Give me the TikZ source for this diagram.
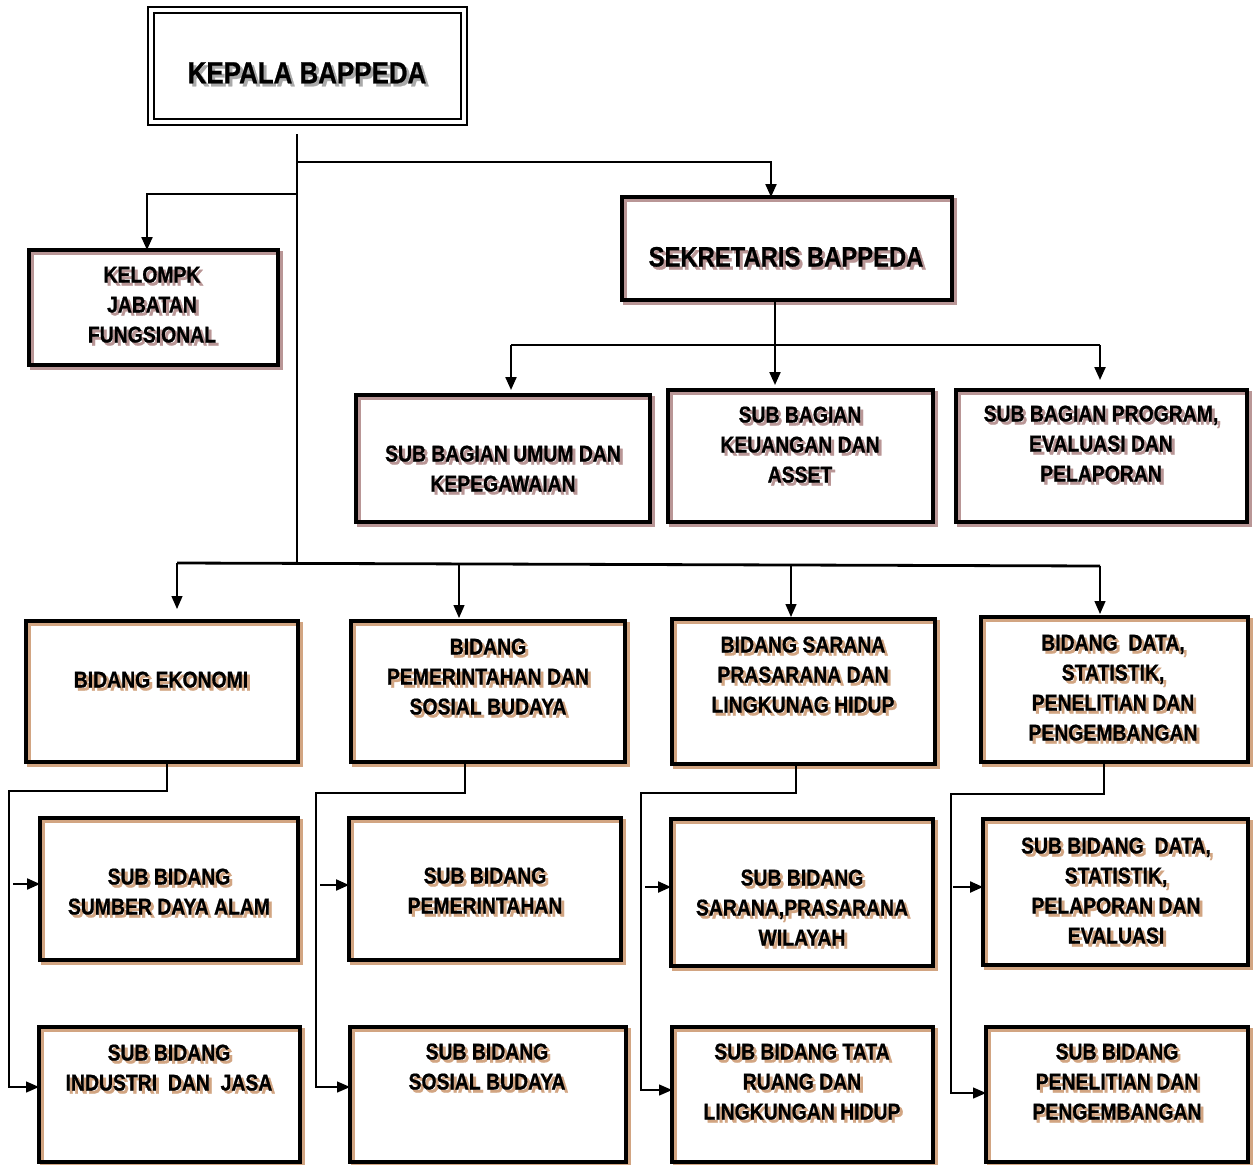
\documentclass[tikz,border=0pt]{standalone}
\usepackage{fontspec}
\usetikzlibrary{fit,arrows.meta}
\newfontfamily\orgfont{Liberation Sans}[FakeStretch=0.85,FakeBold=0.8]
\definecolor{shpink}{RGB}{185,150,150}
\definecolor{shtan}{RGB}{210,165,130}
\definecolor{shgray}{RGB}{170,170,170}
\newcommand\bx[6]{%
  \draw[line width=3.5pt, draw=#2] (#3+3,#4+3) rectangle (#5+3,#6+3);
  \node[box, fit={(#3,#4) (#5,#6)}] (#1) {};}
\newcommand\sht[2]{\rlap{\kern3pt\raisebox{-3pt}{\color{#1}\begin{tabular}{@{}c@{}}#2\end{tabular}}}\begin{tabular}{@{}c@{}}#2\end{tabular}}
\tikzset{
  box/.style={draw=black, line width=4pt, inner sep=0pt, outer sep=0pt},
  txt/.style={inner sep=0pt, yshift=-3pt, font=\orgfont\bfseries\fontsize{22.8}{30}\selectfont},
  ln/.style={draw=black, line width=1.3pt},
  lnb/.style={draw=black, line width=2.2pt},
  arr/.style={-{Triangle[length=13pt,width=11pt]}},
}
\begin{document}
\begin{tikzpicture}[x=1pt,y=-1pt]
\path[use as bounding box, fill=white] (0,0) rectangle (1257,1164);

% Kepala
\node[draw=black, line width=2.8pt, inner sep=0pt, outer sep=0pt, fit={(148,7) (467,125)}] (kepala) {};
\draw[line width=2pt] ([shift={(6,6)}]kepala.north west) rectangle ([shift={(-6,-6)}]kepala.south east);
\node[txt, font=\orgfont\bfseries\fontsize{30.5}{34}\selectfont] (tkepala) at (307,75) {\sht{shgray}{KEPALA BAPPEDA}};

% boxes
\bx{kelompk}{shpink}{29}{250}{278}{365}
\bx{sek}{shpink}{622}{197}{952}{300}
\bx{sb1}{shpink}{356}{395}{650}{522}
\bx{sb2}{shpink}{668}{390}{933}{522}
\bx{sb3}{shpink}{956}{390}{1247}{522}
\bx{b1}{shtan}{26}{621}{298}{762}
\bx{b2}{shtan}{351}{621}{625}{762}
\bx{b3}{shtan}{672}{619}{935}{764}
\bx{b4}{shtan}{981}{617}{1248}{762}
\bx{s11}{shtan}{40}{818}{298}{960}
\bx{s21}{shtan}{349}{818}{621}{960}
\bx{s31}{shtan}{671}{819}{933}{966}
\bx{s41}{shtan}{983}{819}{1248}{965}
\bx{s12}{shtan}{39}{1027}{300}{1162}
\bx{s22}{shtan}{350}{1027}{626}{1162}
\bx{s32}{shtan}{672}{1027}{933}{1162}
\bx{s42}{shtan}{986}{1027}{1248}{1162}

% texts
\node[txt] (tkelompk) at (152,305) {\sht{shpink}{KELOMPK\\JABATAN\\FUNGSIONAL}};
\node[txt, font=\orgfont\bfseries\fontsize{28}{30}\selectfont] (tsek) at (786,259) {\sht{shpink}{SEKRETARIS BAPPEDA}};
\node[txt] (tsb1) at (503,469) {\sht{shpink}{SUB BAGIAN UMUM DAN\\KEPEGAWAIAN}};
\node[txt] (tsb2) at (800,445) {\sht{shpink}{SUB BAGIAN\\KEUANGAN DAN\\ASSET}};
\node[txt] (tsb3) at (1101,444) {\sht{shpink}{SUB BAGIAN PROGRAM,\\EVALUASI DAN\\PELAPORAN}};
\node[txt] (tb1) at (161,680) {\sht{shtan}{BIDANG EKONOMI}};
\node[txt] (tb2) at (488,677) {\sht{shtan}{BIDANG\\PEMERINTAHAN DAN\\SOSIAL BUDAYA}};
\node[txt] (tb3) at (803,675) {\sht{shtan}{BIDANG SARANA\\PRASARANA DAN\\LINGKUNAG HIDUP}};
\node[txt] (tb4) at (1113,688) {\sht{shtan}{BIDANG\ \ DATA,\\STATISTIK,\\PENELITIAN DAN\\PENGEMBANGAN}};
\node[txt] (ts11) at (169,892) {\sht{shtan}{SUB BIDANG\\SUMBER DAYA ALAM}};
\node[txt] (ts21) at (485,891) {\sht{shtan}{SUB BIDANG\\PEMERINTAHAN}};
\node[txt] (ts31) at (802,908) {\sht{shtan}{SUB BIDANG\\SARANA,PRASARANA\\WILAYAH}};
\node[txt] (ts41) at (1116,891) {\sht{shtan}{SUB BIDANG\ \ DATA,\\STATISTIK,\\PELAPORAN DAN\\EVALUASI}};
\node[txt] (ts12) at (169,1068) {\sht{shtan}{SUB BIDANG\\INDUSTRI\ \ DAN\ \ JASA}};
\node[txt] (ts22) at (487,1067) {\sht{shtan}{SUB BIDANG\\SOSIAL BUDAYA}};
\node[txt] (ts32) at (802,1082) {\sht{shtan}{SUB BIDANG TATA\\RUANG DAN\\LINGKUNGAN HIDUP}};
\node[txt] (ts42) at (1117,1082) {\sht{shtan}{SUB BIDANG\\PENELITIAN DAN\\PENGEMBANGAN}};

% top connectors
\coordinate (k0) at (297,134);
\coordinate (k1) at (297,162);
\coordinate (k2) at (297,194);
\coordinate (kb) at (297,563);
\draw[ln] (k0) -- (kb);
\draw[lnb, arr] (k1) -| ([xshift=-16pt]sek.north);
\draw[lnb, arr] (k2) -| ([xshift=-6.5pt]kelompk.north);

% sekretaris connectors
\coordinate (s0) at (775,345);
\coordinate (sa1) at (511,345);
\coordinate (sa3) at (1100,345);
\draw[ln] ([xshift=-12pt]sek.south) -- (s0);
\draw[ln] (sa1) -- (sa3);
\draw[lnb, arr] (sa1) -- ([yshift=5pt]sb1.north -| sa1);
\draw[lnb, arr] (s0) -- ([yshift=5pt]sb2.north -| s0);
\draw[lnb, arr] (sa3) -- ([yshift=10pt]sb3.north -| sa3);

% bidang connectors
\coordinate (ba1) at (177,563);
\coordinate (ba2) at (459,564);
\coordinate (ba3) at (791,565);
\coordinate (ba4) at (1100,566);
\draw[draw=black, line width=2.8pt] (ba1) -- (ba4);
\draw[ln, arr] (ba1) -- ([yshift=12pt]b1.north -| ba1);
\draw[ln, arr] (ba2) -- ([yshift=3pt]b2.north -| ba2);
\draw[ln, arr] (ba3) -- ([yshift=2pt]b3.north -| ba3);
\draw[ln, arr] (ba4) -- ([yshift=3pt]b4.north -| ba4);

% sub bidang connectors
\coordinate (c1) at (167,791); \coordinate (c1l) at (9,1087); \coordinate (c1s) at (13,884);
\coordinate (c2) at (465,793); \coordinate (c2l) at (316,1087); \coordinate (c2s) at (320,885);
\coordinate (c3) at (796,793); \coordinate (c3l) at (641,1090); \coordinate (c3s) at (645,887);
\coordinate (c4) at (1104,794); \coordinate (c4l) at (951,1093); \coordinate (c4s) at (953,887);
\draw[ln, arr] (b1.south -| c1) -- (c1) -| (c1l) -- (s12.west |- c1l);
\draw[ln, arr] (b2.south -| c2) -- (c2) -| (c2l) -- (s22.west |- c2l);
\draw[ln, arr] (b3.south -| c3) -- (c3) -| (c3l) -- (s32.west |- c3l);
\draw[ln, arr] (b4.south -| c4) -- (c4) -| (c4l) -- (s42.west |- c4l);
\draw[lnb, arr] (c1s) -- (s11.west |- c1s);
\draw[lnb, arr] (c2s) -- (s21.west |- c2s);
\draw[lnb, arr] (c3s) -- (s31.west |- c3s);
\draw[lnb, arr] (c4s) -- (s41.west |- c4s);
\end{tikzpicture}
\end{document}
